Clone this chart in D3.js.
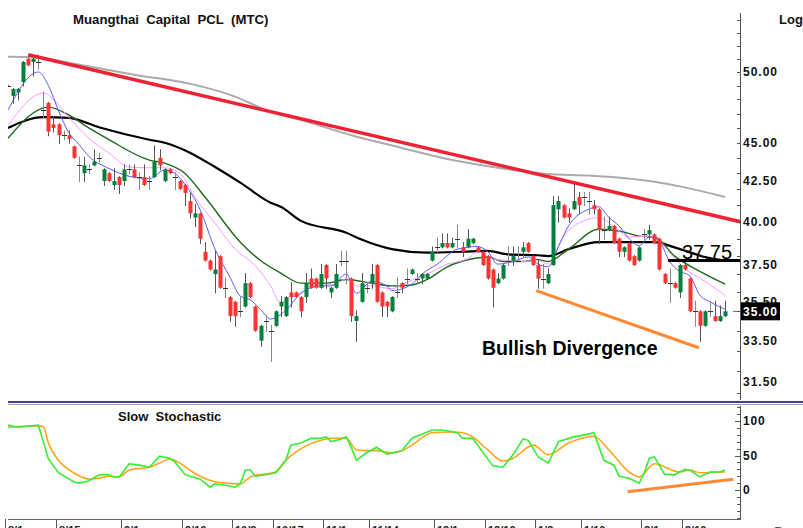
<!DOCTYPE html>
<html>
<head>
<meta charset="utf-8">
<script src="https://cdn.jsdelivr.net/npm/d3@7"></script>
<style>
body { margin: 0; background: #fff; }
svg { display: block; font-family: "Liberation Sans", Arial, sans-serif; }
</style>
</head>
<body>
<div id="chart"></div>
<script>
// daily candles, Aug 1 .. late Feb
const opens  = [49.0,48.25,48.5,49.25,51.0,50.75,50.75,47.25,47.75,46.25,46.25,45.5,45.5,44.75,43.5,43.0,43.25,43.5,44.0,42.5,
  43.0,42.25,42.75,42.5,43.25,43.25,42.75,42.75,42.5,42.75,44.0,42.5,43.25,42.75,42.5,42.25,41.25,40.25,40.5,38.25,
  37.75,37.0,38.0,36.25,35.75,35.5,35.0,35.25,36.5,35.25,33.5,34.5,34.0,34.25,35.25,34.75,36.0,36.0,35.75,35.75,
  36.75,36.75,36.25,37.5,36.0,36.25,37.75,37.75,36.75,34.5,35.5,36.25,36.5,37.5,36.0,35.5,35.0,36.0,36.5,36.75,
  37.0,36.75,36.75,36.75,37.75,38.5,38.5,38.75,38.5,39.0,38.5,38.5,38.75,38.5,38.25,38.0,37.25,36.5,36.75,37.75,
  37.75,37.75,38.25,38.75,38.0,37.5,36.75,36.5,37.5,40.75,41.0,40.5,40.75,41.5,41.5,41.25,41.0,40.75,39.5,39.5,
  39.75,39.0,38.25,38.75,38.0,37.75,39.25,39.25,39.25,39.0,37.0,36.5,36.5,36.0,37.5,36.75,35.0,35.0,34.25,35.0,
  34.75,34.5,34.75];
const highs  = [49.0,48.75,48.75,50.75,51.0,51.0,51.25,48.5,47.75,46.75,46.25,45.75,45.75,44.75,44.0,44.0,43.5,44.5,44.25,43.25,
  43.0,43.25,42.75,43.5,43.5,43.5,43.0,43.5,42.75,44.75,44.5,43.25,43.25,43.0,42.5,42.25,41.75,41.0,40.5,38.75,
  37.75,38.25,38.0,36.75,35.75,35.5,35.75,37.0,36.5,35.25,34.25,34.75,34.25,35.0,35.75,35.75,36.5,36.0,35.75,37.0,
  37.25,36.75,37.5,37.5,36.25,37.5,38.25,38.25,36.75,35.0,37.0,36.5,37.5,37.5,36.0,35.5,35.75,36.75,36.5,37.25,
  37.25,37.0,37.0,37.0,38.5,39.0,39.25,39.25,39.0,39.75,38.75,39.5,39.0,38.5,38.25,38.0,37.25,37.0,37.5,38.5,
  38.5,38.5,38.75,38.75,38.0,37.75,37.5,37.25,41.5,41.5,41.0,40.75,42.25,41.75,41.75,41.75,41.25,40.75,40.25,40.25,
  39.75,39.0,38.5,38.75,38.0,38.5,39.5,39.75,39.25,39.0,37.0,37.25,36.5,37.5,37.75,36.75,35.5,35.0,35.0,35.5,
  35.5,35.25,35.5];
const lows   = [49.0,47.75,48.0,49.0,50.5,49.75,50.25,46.75,45.5,45.75,45.0,45.25,45.0,44.0,42.5,42.5,43.0,43.5,43.75,42.25,
  42.5,42.0,41.75,42.25,43.0,42.75,42.0,42.25,42.0,42.75,43.25,42.5,43.0,42.0,42.0,41.0,40.25,39.75,38.75,37.75,
  37.25,36.0,36.25,35.75,34.5,34.25,34.75,35.25,35.75,34.0,33.25,34.0,32.5,34.25,34.75,34.75,35.25,35.75,34.75,35.5,
  36.25,36.25,36.25,36.25,35.75,36.25,37.5,36.5,34.5,33.5,35.5,36.0,36.25,35.5,34.75,34.75,35.0,35.75,36.0,36.5,
  37.0,36.5,36.5,36.75,37.75,38.25,38.5,38.5,38.5,38.5,38.0,38.5,38.75,38.25,37.5,36.75,35.25,36.5,36.75,37.5,
  37.5,37.75,38.0,38.25,37.5,36.25,36.25,36.5,37.5,40.0,40.25,40.0,40.75,40.5,41.0,40.5,40.5,38.75,39.0,39.5,
  38.75,38.0,38.0,37.75,37.5,37.75,39.0,39.0,38.75,37.25,36.5,35.5,36.25,35.75,37.25,35.0,34.25,33.5,34.25,34.75,
  34.5,34.5,34.75];
const closes = [49.0,48.75,48.75,50.75,50.5,51.0,50.75,47.25,45.75,46.0,45.5,45.5,45.25,44.0,43.5,43.5,43.25,43.75,44.0,43.25,
  42.5,42.5,42.25,43.25,43.25,42.75,42.75,42.25,42.5,43.75,43.5,43.25,43.0,42.75,42.0,41.75,40.5,40.5,39.0,37.75,
  37.25,37.25,36.25,36.25,34.75,34.75,35.0,36.5,35.75,34.0,34.25,34.5,34.0,35.0,35.5,35.75,35.75,35.75,35.0,36.5,
  36.25,36.25,37.0,36.75,36.25,37.0,37.75,37.75,34.75,34.75,36.5,36.25,37.0,35.5,35.25,35.25,35.75,36.0,36.25,36.75,
  37.25,36.75,37.0,37.0,38.25,38.5,38.75,38.5,38.75,39.0,38.25,39.0,39.0,38.25,37.5,36.75,36.25,36.75,37.5,37.75,
  38.0,37.75,38.5,38.25,37.5,36.75,36.75,37.0,41.0,41.25,40.25,40.25,41.25,41.0,41.5,41.25,40.75,39.5,39.5,39.75,
  38.75,38.25,38.5,37.75,37.5,38.5,39.25,39.5,38.75,37.25,36.5,36.5,36.25,37.5,37.25,35.0,35.0,34.25,35.0,35.0,
  34.5,34.75,35.0];

const dateLabels = ["8/1","8/15","9/1","9/16","10/3","10/17","11/1","11/14","12/1","12/16","1/3","1/16","2/1","2/16"];
const dateIdx    = [0,10,23,35,45,53,63,72,85,95,105,114,126,134];

// moving averages, read at sample points (candle index, price)
const maBlueIdx  = [0,6,8,10,12,14,16,20,24,28,31,33,35,38,41,44,46,48,50,52,55,58,62,64,67,69,72,75,76,80,82,85,89,93,95,97,100,103,105,107,109,111,115,117,119,121,123,125,127,129,131,133,135,137,139,142];
const maBlueVal  = [47.25,50.0,49.0,47.2,45.7,44.9,44.1,43.3,42.8,42.65,43.2,43.0,42.3,40.75,38.4,36.8,35.8,35.6,35.1,34.6,35.05,35.95,36.35,36.35,37.0,35.95,36.6,36.35,36.1,36.45,37.0,37.55,38.4,38.55,38.25,37.55,37.7,37.95,37.55,37.4,38.55,39.75,40.75,40.9,40.25,39.75,39.0,38.6,39.1,38.85,37.7,37.15,36.9,35.85,35.5,35.1];
const maPinkIdx  = [0,7,12,16,20,24,27,31,34,37,41,45,49,52,54,56,61,65,67,69,72,76,78,83,87,91,93,96,99,102,105,107,110,115,117,120,123,127,128,131,134,138,142];
const maPinkVal  = [46.15,48.45,46.75,45.3,44.3,43.4,43.35,43.35,43.0,41.5,39.9,38.4,37.45,36.35,35.45,35.7,36.35,36.45,36.75,36.35,36.35,36.2,36.45,37.0,37.55,37.85,38.25,37.85,37.75,37.7,37.75,37.55,39.15,40.15,40.25,39.7,39.1,39.15,39.1,38.2,37.3,36.6,35.85];
const maGreenIdx = [0,8,12,16,20,28,31,35,39,46,50,54,58,63,67,72,76,80,83,87,92,95,98,102,105,107,111,117,121,125,128,132,137,142];
const maGreenVal = [45.3,47.45,46.9,46.0,45.2,43.85,43.65,43.0,41.5,38.8,37.75,37.05,36.5,36.5,36.7,36.5,36.35,36.4,36.7,37.4,37.85,37.95,37.7,37.7,37.8,37.7,38.4,39.55,39.45,39.15,39.1,38.0,37.15,36.45];
const maBlackIdx = [0,7,12,18,28,31,35,41,46,52,54,58,67,70,76,83,90,95,99,105,107,111,117,121,128,132,138,142];
const maBlackVal = [46.0,46.75,46.7,46.05,45.2,45.0,44.5,43.4,42.4,41.15,40.9,40.05,39.35,38.95,38.4,38.2,38.25,38.3,38.1,38.05,38.0,38.4,38.8,38.8,38.8,38.5,37.95,37.75];
const maGreyIdx  = [0,6,12,25,37,45,52,58,68,78,88,97,107,115,128,134,142];
const maGreyVal  = [51.15,51.1,50.7,49.8,49.05,48.2,47.1,46.55,45.5,44.65,43.85,43.35,42.95,42.85,42.45,42.1,41.5];

// slow stochastic %K and %D
const stochKIdx = [0,2,6,8,10,13,14,16,18,20,21,22,24,26,28,30,32,33,35,36,38,40,41,43,45,46,47,48,49,51,53,55,56,58,60,62,63,64,66,67,68,69,71,73,75,77,78,80,84,86,89,90,92,96,98,100,102,103,105,107,109,112,115,116,118,120,121,123,125,126,127,128,130,132,134,135,137,139,141,142];
const stochKVal = [94,91,94,45,25,12,10,13,22,22,19,19,38,36,33,49,46,41,23,20,16,4,9,7,4,9,29,29,20,22,25,43,65,68,75,75,77,70,74,77,61,43,54,62,52,55,57,75,87,87,83,75,75,35,33,51,74,72,48,39,70,77,81,83,43,36,20,17,10,25,46,48,23,22,30,29,19,26,26,29];
const stochDIdx = [0,6,7,8,10,13,16,18,20,22,24,28,30,32,34,36,38,41,43,46,48,51,53,55,57,59,62,64,67,69,71,73,76,78,80,84,88,90,92,95,98,100,104,107,111,116,119,123,125,128,133,135,137,142];
const stochDVal = [91,93,92,68,43,25,16,17,20,19,29,33,39,45,39,29,20,12,10,9,19,23,26,43,55,64,72,75,75,58,57,57,54,57,65,83,84,83,77,58,42,46,65,51,68,78,58,26,19,38,26,29,25,26];

// drawn annotations
const downTrend   = [[4, 51.3], [145, 40.0]];
const priceDiv    = [[104.6, 36.1], [136.8, 33.15]];
const stochDiv    = [[122.7, -2.5], [143.6, 15.5]];
const resistLevel = 37.75, resistFrom = 130.7;
const lastPrice   = 35.00;

const priceLabels = [50, 45, 42.5, 40, 37.5, 35.5, 33.5, 31.5];
const stochLabels = [100, 50, 0];

const W = 803, H = 528, left = 8, right = 740;
const svg = d3.select("#chart").append("svg").attr("width", W).attr("height", H);

const x  = d3.scaleLinear().domain([0, 142]).range([8, 725.1]);
const y  = d3.scaleLog().domain([50, 31.5]).range([72, 382]);
const ys = d3.scaleLinear().domain([0, 100]).range([490, 421]);

svg.append("clipPath").attr("id", "cp").append("rect")
    .attr("x", left).attr("y", 10).attr("width", right - left).attr("height", 390);
svg.append("clipPath").attr("id", "cs").append("rect")
    .attr("x", left).attr("y", 405).attr("width", right - left).attr("height", 113);

const plot = svg.append("g").attr("clip-path", "url(#cp)");
const splot = svg.append("g").attr("clip-path", "url(#cs)");

function maLine(idx, val, color, w) {
    const line = d3.line().x(d => x(d[0])).y(d => y(d[1])).curve(d3.curveMonotoneX);
    plot.append("path").datum(d3.zip(idx, val))
        .attr("d", line).attr("fill", "none")
        .attr("stroke", color).attr("stroke-width", w);
}

maLine(maGreyIdx, maGreyVal, "#ababab", 2);
maLine(maBlackIdx, maBlackVal, "#000", 2.2);
maLine(maGreenIdx, maGreenVal, "#1c6b1c", 1.4);
maLine(maPinkIdx, maPinkVal, "#ff99ff", 1);
maLine(maBlueIdx, maBlueVal, "#5b5bff", 1);

// candles
const candles = d3.range(closes.length).map(i => ({i, o: opens[i], h: highs[i], l: lows[i], c: closes[i]}));
const cg = plot.selectAll(".candle").data(candles).join("g").attr("class", "candle");
cg.append("line")
    .attr("x1", d => Math.round(x(d.i)) + 0.5).attr("x2", d => Math.round(x(d.i)) + 0.5)
    .attr("y1", d => y(d.h) - 1).attr("y2", d => y(d.l) + 1)
    .attr("stroke", d => d.o === d.c ? "#888" : "#555").attr("stroke-width", 1);
cg.filter(d => d.o !== d.c).append("rect")
    .attr("x", d => Math.round(x(d.i)) - 1.5).attr("width", 4)
    .attr("y", d => y(Math.max(d.o, d.c)))
    .attr("height", d => Math.max(2, y(Math.min(d.o, d.c)) - y(Math.max(d.o, d.c))))
    .attr("fill", d => d.c > d.o ? "#00803c" : "#ff3333");
cg.filter(d => d.o === d.c).append("line")
    .attr("x1", d => Math.round(x(d.i)) - 2).attr("x2", d => Math.round(x(d.i)) + 3)
    .attr("y1", d => Math.round(y(d.c)) + 0.5).attr("y2", d => Math.round(y(d.c)) + 0.5)
    .attr("stroke", "#333");

// trend lines
const tl = d3.line().x(d => x(d[0])).y(d => y(d[1]));
plot.append("path").datum(downTrend).attr("d", tl)
    .attr("stroke", "#ee2233").attr("stroke-width", 3.5).attr("fill", "none");
plot.append("path").datum(priceDiv).attr("d", tl)
    .attr("stroke", "#ff8833").attr("stroke-width", 3).attr("fill", "none");
plot.append("line")
    .attr("x1", x(resistFrom)).attr("x2", right)
    .attr("y1", y(resistLevel)).attr("y2", y(resistLevel))
    .attr("stroke", "#000").attr("stroke-width", 3);

svg.append("text").attr("x", 682).attr("y", 259)
    .attr("font-size", 20).attr("fill", "#000").text(resistLevel.toFixed(2));
svg.append("text").attr("x", 482).attr("y", 355)
    .attr("font-size", 19.5).attr("font-weight", "bold").attr("fill", "#000").text("Bullish Divergence");

// right price axis
svg.append("line").attr("x1", right + 0.5).attr("x2", right + 0.5).attr("y1", 13).attr("y2", 400)
    .attr("stroke", "#555");
svg.selectAll(".ptick").data(d3.range(31, 55, 1)).join("line")
    .attr("x1", right - 3).attr("x2", right)
    .attr("y1", d => Math.round(y(d)) + 0.5).attr("y2", d => Math.round(y(d)) + 0.5)
    .attr("stroke", "#555");
svg.selectAll(".plab").data(priceLabels).join("text")
    .attr("x", 743).attr("y", d => y(d)).attr("dy", "0.36em")
    .attr("font-size", 12).attr("font-weight", "bold").attr("letter-spacing", 1)
    .attr("fill", "#111").text(d => d.toFixed(2));

svg.append("rect").attr("x", 741).attr("y", y(lastPrice) - 9).attr("width", 39).attr("height", 18).attr("fill", "#000");
svg.append("text").attr("x", 743).attr("y", y(lastPrice)).attr("dy", "0.36em")
    .attr("font-size", 12).attr("font-weight", "bold").attr("letter-spacing", 1)
    .attr("fill", "#fff").text(lastPrice.toFixed(2));
svg.append("line").attr("x1", 733).attr("x2", 737).attr("y1", y(lastPrice)).attr("y2", y(lastPrice))
    .attr("stroke", "#666");

svg.append("text").attr("x", 73).attr("y", 24).attr("font-size", 13.2).attr("font-weight", "bold")
    .style("white-space", "pre").attr("fill", "#111").text("Muangthai  Capital  PCL  (MTC)");
svg.append("text").attr("x", 779).attr("y", 24).attr("font-size", 13).attr("font-weight", "bold")
    .attr("fill", "#111").text("Log");

// panel separator
svg.append("line").attr("x1", left).attr("x2", W).attr("y1", 402).attr("y2", 402)
    .attr("stroke", "#000080").attr("stroke-width", 1.6);
svg.append("line").attr("x1", left).attr("x2", W).attr("y1", 404.5).attr("y2", 404.5)
    .attr("stroke", "#aaa");

// stochastic panel
const sl = d3.line().x(d => x(d[0])).y(d => ys(d[1]));
splot.append("path").datum(d3.zip(stochDIdx, stochDVal))
    .attr("d", sl.curve(d3.curveMonotoneX)).attr("fill", "none")
    .attr("stroke", "#ffa31a").attr("stroke-width", 1.6);
splot.append("path").datum(d3.zip(stochKIdx, stochKVal))
    .attr("d", sl.curve(d3.curveLinear)).attr("fill", "none")
    .attr("stroke", "#33ee33").attr("stroke-width", 1.6);
splot.append("path").datum(stochDiv).attr("d", sl)
    .attr("stroke", "#ff8833").attr("stroke-width", 3).attr("fill", "none");

svg.append("text").attr("x", 118).attr("y", 421).attr("font-size", 13).attr("font-weight", "bold")
    .style("white-space", "pre").attr("fill", "#111").text("Slow  Stochastic");

svg.append("line").attr("x1", right + 0.5).attr("x2", right + 0.5).attr("y1", 406).attr("y2", 519)
    .attr("stroke", "#555");
svg.selectAll(".stick").data(d3.range(-40, 130, 10)).join("line")
    .attr("x1", d => right - (d % 50 === 0 ? 5 : 3)).attr("x2", right)
    .attr("y1", d => Math.round(ys(d)) + 0.5).attr("y2", d => Math.round(ys(d)) + 0.5)
    .attr("stroke", "#555");
svg.selectAll(".slab").data(stochLabels).join("text")
    .attr("x", 743).attr("y", d => ys(d)).attr("dy", "0.36em")
    .attr("font-size", 12).attr("font-weight", "bold").attr("letter-spacing", 0.8)
    .attr("fill", "#111").text(d => d);

// date axis
svg.append("line").attr("x1", left).attr("x2", right + 1).attr("y1", 519.5).attr("y2", 519.5)
    .attr("stroke", "#666");
svg.selectAll(".dsep").data(dateIdx).join("line")
    .attr("x1", d => Math.round(x(d) - 3) + 0.5).attr("x2", d => Math.round(x(d) - 3) + 0.5)
    .attr("y1", 519).attr("y2", H).attr("stroke", "#555");
svg.selectAll(".dlab").data(dateIdx).join("text")
    .attr("x", d => Math.round(x(d) - 3) + 3).attr("y", 534)
    .attr("font-size", 11).attr("font-weight", "bold").attr("fill", "#222")
    .text((d, i) => dateLabels[i]);
svg.append("text").attr("x", 774).attr("y", 537).attr("font-size", 14).attr("fill", "#555").text("Day");
</script>
</body>
</html>
